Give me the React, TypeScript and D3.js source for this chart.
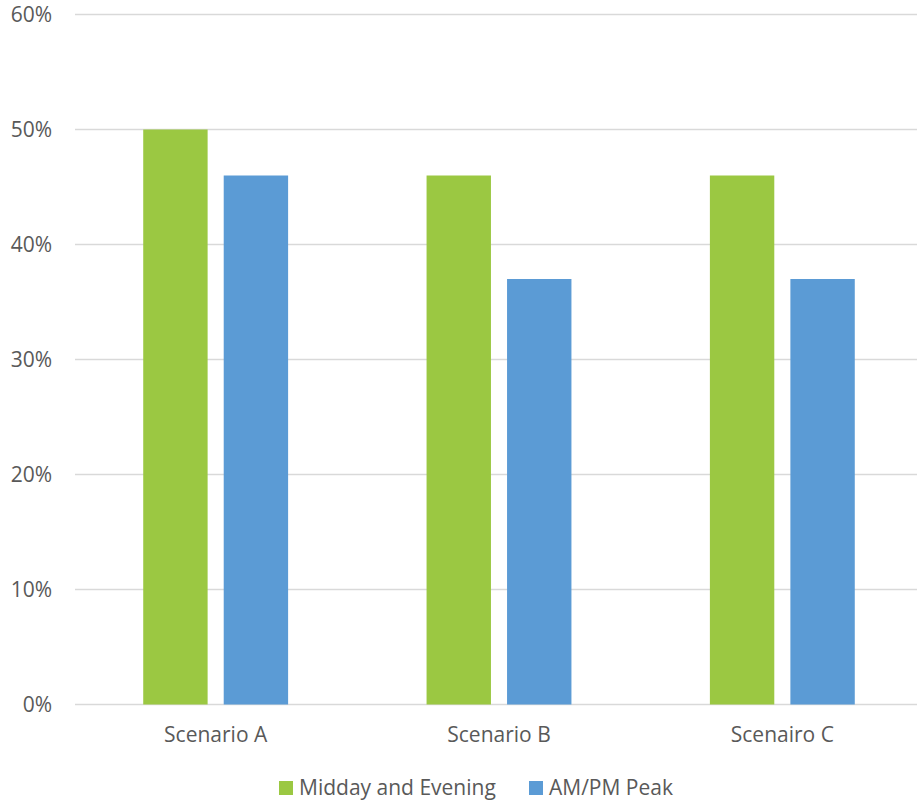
import React from "react";
import * as d3 from "d3";

const categories = ["Scenario A", "Scenario B", "Scenairo C"];
const seriesNames = ["Midday and Evening", "AM/PM Peak"];
const middayEvening = [0.5, 0.46, 0.46];
const amPmPeak = [0.46, 0.37, 0.37];
const yTicks = [0, 0.1, 0.2, 0.3, 0.4, 0.5, 0.6];
const colors = ["#9BC842", "#5B9BD5"];

const W = 917;
const H = 800;
const left = 74;
const right = 924;
const gridRight = 917;
const top = 14.5;
const bottom = 704.5;
const font = "'Open Sans', 'Noto Sans', sans-serif";
const textColor = "#595959";

export default function App() {
  const x0 = d3.scaleBand<string>().domain(categories).range([left, right]).padding(0);
  const x1 = d3
    .scaleBand<string>()
    .domain(seriesNames)
    .range([0, x0.bandwidth()])
    .paddingInner(0.2)
    .paddingOuter(0.86);
  const y = d3.scaleLinear().domain([0, 0.6]).range([bottom, top]);
  const fmt = d3.format(".0%");
  const series = [middayEvening, amPmPeak];

  return (
    <svg
      width={W}
      height={H}
      style={{ position: "absolute", left: 0, top: 0, display: "block", background: "#fff" }}
    >
      {yTicks.map((t) => (
        <g key={t}>
          <line x1={left + 1} x2={gridRight} y1={y(t)} y2={y(t)} stroke="#D9D9D9" strokeWidth={1.3} />
          <text
            x={52}
            y={y(t) + 7.5}
            textAnchor="end"
            fontFamily={font}
            fontSize={21}
            fill={textColor}
          >
            {fmt(t)}
          </text>
        </g>
      ))}
      {categories.map((c, i) => (
        <g key={c} transform={`translate(${x0(c)},0)`}>
          {seriesNames.map((s, j) => (
            <rect
              key={s}
              x={x1(s)}
              y={y(series[j][i])}
              width={x1.bandwidth()}
              height={y(0) - y(series[j][i])}
              fill={colors[j]}
            />
          ))}
          <text
            x={x0.bandwidth() / 2}
            y={742}
            textAnchor="middle"
            fontFamily={font}
            fontSize={21}
            fill={textColor}
          >
            {c}
          </text>
        </g>
      ))}
      {seriesNames.map((s, j) => {
        const lx = [279, 529][j];
        return (
          <g key={s}>
            <rect x={lx} y={781} width={14} height={14} fill={colors[j]} />
            <text x={lx + 20} y={795} fontFamily={font} fontSize={21} fill={textColor}>
              {s}
            </text>
          </g>
        );
      })}
    </svg>
  );
}
